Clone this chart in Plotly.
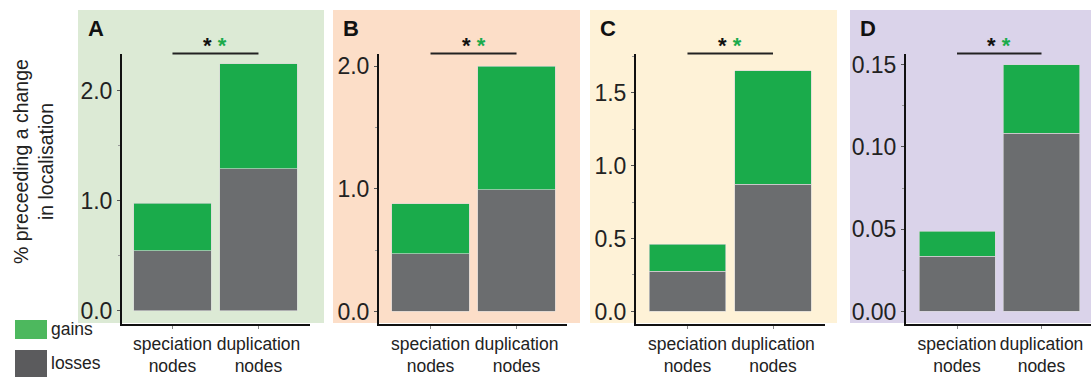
import plotly.graph_objects as go

# ---------------- data ----------------
categories = ["speciation<br>nodes", "duplication<br>nodes"]
panel_labels = ["A", "B", "C", "D"]

losses_A = [0.545, 1.288]
gains_A = [0.428, 0.957]
losses_B = [0.470, 0.994]
gains_B = [0.408, 1.006]
losses_C = [0.275, 0.873]
gains_C = [0.186, 0.777]
losses_D = [0.0334, 0.1083]
gains_D = [0.0152, 0.0417]

y_ranges = [[-0.118, 2.336], [-0.098, 2.104], [-0.0825, 1.768], [-0.0073, 0.1567]]
y_tickvals = [[0.0, 1.0, 2.0], [0.0, 1.0, 2.0], [0.0, 0.5, 1.0, 1.5], [0.0, 0.05, 0.10, 0.15]]
y_ticktext = [["0.0", "1.0", "2.0"], ["0.0", "1.0", "2.0"], ["0.0", "0.5", "1.0", "1.5"],
              ["0.00", "0.05", "0.10", "0.15"]]
y_minor = [0.5, 0.5, 0.25, 0.025]

losses = [losses_A, losses_B, losses_C, losses_D]
gains = [gains_A, gains_B, gains_C, gains_D]

# ---------------- layout constants ----------------
W, H = 1091, 377
GREEN = "#1aab4b"
GREY = "#6b6d6f"
bg_colors = ["#dcead5", "#fcdec8", "#fef2d7", "#dad3ea"]
bg_px = [(78, 324), (333, 580), (590, 837), (850, 1091)]
xdom_px = [(122, 310), (379, 567), (636, 825), (906, 1091)]
xr = [[-0.587, 1.599], [-0.599, 1.587], [-0.602, 1.608], [-0.604, 1.586]]
ydom_px = (53.5, 323.5)
FONT = "Liberation Sans, Arial, Helvetica, sans-serif"


def px_x(p):
    return p / W


def px_y(p):
    return 1 - p / H


fig = go.Figure()
shapes = []
annotations = []

for i in range(4):
    ax = "" if i == 0 else str(i + 1)
    xname, yname = "x" + ax, "y" + ax
    fig.add_trace(go.Bar(
        x=categories, y=losses[i], name="losses", marker_color=GREY,
        marker_line=dict(color="rgba(215,215,215,0.8)", width=0.8),
        width=0.9, xaxis=xname, yaxis=yname, showlegend=False))
    fig.add_trace(go.Bar(
        x=categories, y=gains[i], name="gains", marker_color=GREEN,
        marker_line=dict(color="rgba(215,215,215,0.8)", width=0.8),
        width=0.9, xaxis=xname, yaxis=yname, showlegend=False))

    fig.update_layout(**{
        "xaxis" + ax: dict(
            domain=[px_x(xdom_px[i][0]), min(1.0, px_x(xdom_px[i][1]))],
            range=xr[i], anchor=yname, showline=True, linecolor="#111", linewidth=2,
            ticks="outside", ticklen=3, tickcolor="#888", tickwidth=1, tickangle=0,
            automargin=False,
            tickfont=dict(size=17.5, color="#222", family=FONT), showgrid=False, zeroline=False,
            fixedrange=True),
        "yaxis" + ax: dict(
            domain=[px_y(ydom_px[1]), px_y(ydom_px[0])],
            range=y_ranges[i], anchor=xname, showline=True, linecolor="#111", linewidth=2,
            tickvals=y_tickvals[i], ticktext=y_ticktext[i], automargin=False,
            ticks="outside", ticklen=3, tickcolor="#555", tickwidth=1,
            minor=dict(dtick=y_minor[i], ticks="outside", ticklen=2, tickcolor="#999"),
            tickfont=dict(size=23, color="#222", family=FONT), showgrid=False, zeroline=False,
            fixedrange=True),
    })

    # panel background
    shapes.append(dict(type="rect", xref="paper", yref="paper", layer="below",
                       x0=px_x(bg_px[i][0]), x1=px_x(bg_px[i][1]),
                       y0=px_y(323), y1=px_y(10), fillcolor=bg_colors[i], line_width=0))
    # significance bar
    shapes.append(dict(type="line", xref=xname, yref=yname + " domain",
                       x0=0, x1=1, y0=1.0, y1=1.0, line=dict(color="#222", width=2)))
    annotations.append(dict(xref=xname, yref=yname + " domain", x=0.5, y=1.0,
                            yanchor="bottom", yshift=-7, showarrow=False,
                            text="<b>*</b> <b><span style='color:%s'>*</span></b>" % GREEN,
                            font=dict(size=22, color="#111", family=FONT)))
    # panel letter
    annotations.append(dict(xref="paper", yref="paper", x=px_x(bg_px[i][0] + 8), y=px_y(28),
                            xanchor="left", yanchor="middle", showarrow=False,
                            text="<b>%s</b>" % panel_labels[i],
                            font=dict(size=22, color="#111", family=FONT)))

# y-axis title
annotations.append(dict(xref="paper", yref="paper", x=px_x(33), y=px_y(162),
                        textangle=-90, showarrow=False, xanchor="center", yanchor="middle",
                        text="% preceeding a change<br>in localisation",
                        font=dict(size=19.5, color="#222", family=FONT)))

# legend
legend_items = [("gains", "#4db85e", 320, 339), ("losses", "#5b5b5d", 350, 377)]
for label, col, y0, y1 in legend_items:
    shapes.append(dict(type="rect", xref="paper", yref="paper",
                       x0=px_x(15), x1=px_x(47), y0=px_y(y1), y1=px_y(y0),
                       fillcolor=col, line_width=0))
    annotations.append(dict(xref="paper", yref="paper", x=px_x(49), y=px_y((y0 + y1) / 2 - 1),
                            xanchor="left", yanchor="middle", showarrow=False, text=label,
                            font=dict(size=17.5, color="#222", family=FONT)))

fig.update_layout(
    template="none",
    width=W, height=H, margin=dict(l=0, r=0, t=0, b=0, autoexpand=False),
    barmode="stack", bargap=0.1,
    paper_bgcolor="white", plot_bgcolor="rgba(0,0,0,0)",
    shapes=shapes, annotations=annotations, showlegend=False,
    font=dict(family=FONT),
)

fig.write_html("out.html", config={"displayModeBar": False},
               post_script="document.body.style.margin='0';document.body.style.overflow='hidden';")
